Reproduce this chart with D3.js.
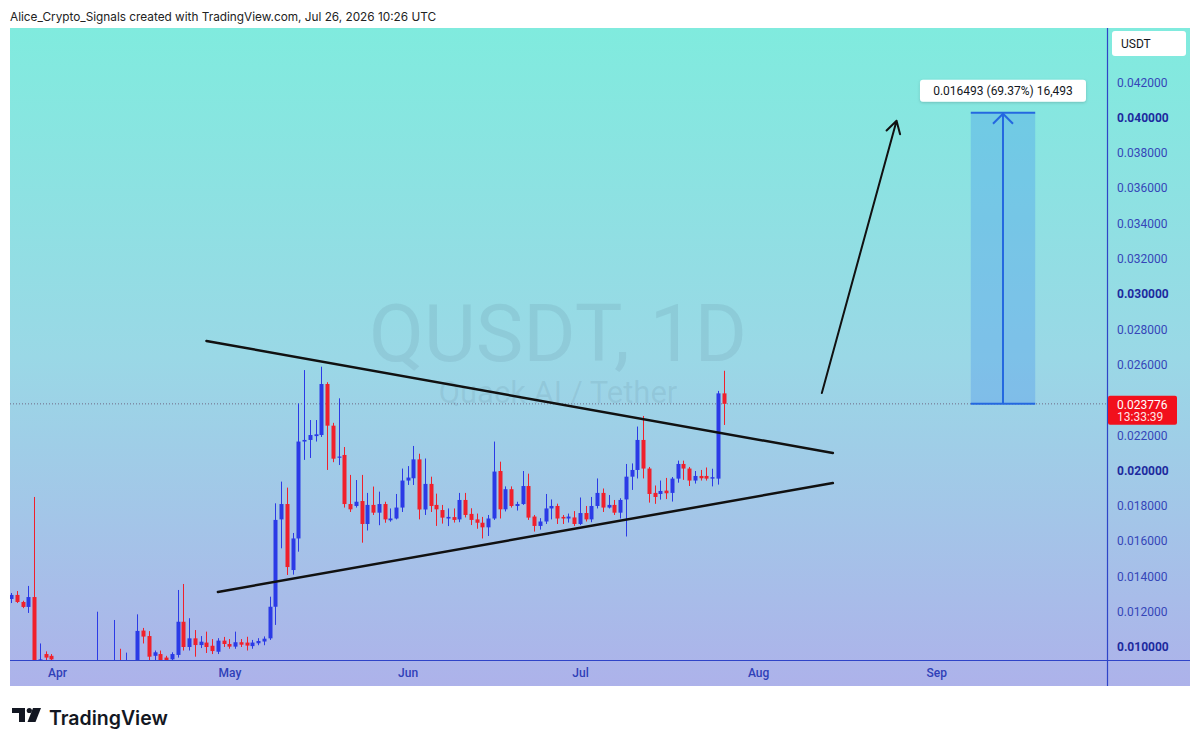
<!DOCTYPE html>
<html>
<head>
<meta charset="utf-8">
<script src="https://cdn.jsdelivr.net/npm/d3@7"></script>
<style>
  body { margin: 0; background: #fff; }
  svg { display: block; font-family: Roboto, "Noto Sans", sans-serif; }
</style>
</head>
<body>
<div id="chart"></div>
<script>
// daily candles starting Mar 24 2026 (one per day)
var firstDay = "2026-03-24";

var opens = [0.01272,0.01295,0.01255,0.01227,0.01283,0.00880,0.00960,0.00950,
  0.00910,0.00880,0.00895,0.00860,0.00870,0.00885,0.00870,0.00860,0.00890,0.00875,
  0.00865,0.00920,0.00880,0.00910,0.00905,0.01093,0.01062,0.00950,0.00960,0.00940,
  0.00930,0.00955,0.01143,0.01000,0.01049,0.01011,0.01025,0.01007,0.00973,0.01036,
  0.01017,0.01002,0.01027,0.01025,0.01005,0.01021,0.01031,0.01049,0.01228,0.01723,
  0.01810,0.01436,0.01615,0.02164,0.02173,0.02195,0.02201,0.02490,0.02254,0.02073,
  0.02088,0.01810,0.01799,0.01827,0.01697,0.01805,0.01761,0.01810,0.01718,0.01728,
  0.01790,0.01943,0.01956,0.02063,0.01779,0.01924,0.01805,0.01776,0.01728,0.01736,
  0.01723,0.01833,0.01754,0.01723,0.01704,0.01678,0.01728,0.01997,0.01780,0.01894,
  0.01799,0.01810,0.01912,0.01739,0.01686,0.01711,0.01785,0.01799,0.01737,0.01728,
  0.01734,0.01697,0.01759,0.01723,0.01799,0.01873,0.01790,0.01805,0.01761,0.01836,
  0.01965,0.02003,0.02173,0.02011,0.01873,0.01867,0.01886,0.01873,0.01954,0.02037,
  0.02011,0.01943,0.01969,0.01969,0.01954,0.01954,0.02437];

var highs = [0.01306,0.01317,0.01262,0.01346,0.01850,0.01020,0.00975,0.00960,
  0.00915,0.00905,0.00910,0.00890,0.00900,0.00910,0.00905,0.01200,0.00915,0.00910,
  0.01153,0.00990,0.00968,0.00920,0.01185,0.01108,0.01090,0.00980,0.00980,0.00950,
  0.00970,0.01323,0.01357,0.01163,0.01096,0.01062,0.01087,0.01045,0.01050,0.01057,
  0.01045,0.01087,0.01045,0.01058,0.01040,0.01050,0.01060,0.01285,0.01814,0.01937,
  0.01903,0.01646,0.02380,0.02569,0.02286,0.02286,0.02588,0.02500,0.02270,0.02409,
  0.02133,0.01975,0.01946,0.01975,0.01873,0.01909,0.01880,0.01823,0.01785,0.01867,
  0.02011,0.02025,0.02139,0.02095,0.02068,0.01965,0.01869,0.01805,0.01785,0.01785,
  0.01873,0.01873,0.01786,0.01756,0.01737,0.01748,0.02164,0.02050,0.01910,0.01910,
  0.01823,0.01997,0.01982,0.01748,0.01730,0.01867,0.01836,0.01812,0.01748,0.01756,
  0.01770,0.01847,0.01799,0.01850,0.01955,0.01898,0.01861,0.01833,0.01843,0.02037,
  0.02040,0.02249,0.02309,0.02020,0.01915,0.01943,0.01958,0.01963,0.02056,0.02056,
  0.02020,0.01997,0.02003,0.02017,0.02010,0.02451,0.02565];

var lows = [0.01249,0.01249,0.01220,0.01193,0.00850,0.00860,0.00900,0.00890,
  0.00870,0.00860,0.00850,0.00840,0.00850,0.00860,0.00850,0.00840,0.00860,0.00850,
  0.00850,0.00870,0.00860,0.00870,0.00890,0.01020,0.00920,0.00920,0.00900,0.00910,
  0.00920,0.00940,0.00980,0.00980,0.00945,0.00994,0.00966,0.00960,0.00960,0.01000,
  0.00990,0.00990,0.01000,0.00980,0.00990,0.01010,0.01010,0.01040,0.01125,0.01559,
  0.01408,0.01410,0.01540,0.02060,0.02071,0.02164,0.02190,0.02003,0.02047,0.02031,
  0.01790,0.01765,0.01790,0.01591,0.01660,0.01748,0.01690,0.01704,0.01710,0.01723,
  0.01765,0.01918,0.01918,0.01723,0.01748,0.01765,0.01686,0.01699,0.01685,0.01705,
  0.01707,0.01734,0.01691,0.01670,0.01615,0.01629,0.01720,0.01728,0.01768,0.01790,
  0.01773,0.01805,0.01720,0.01654,0.01665,0.01697,0.01723,0.01697,0.01697,0.01705,
  0.01686,0.01691,0.01711,0.01707,0.01785,0.01765,0.01785,0.01748,0.01728,0.01626,
  0.01890,0.01955,0.01955,0.01818,0.01811,0.01835,0.01838,0.01824,0.01931,0.01947,
  0.01912,0.01926,0.01943,0.01943,0.01910,0.01920,0.02258];

var closes = [0.01295,0.01255,0.01227,0.01283,0.00880,0.00930,0.00940,0.00930,
  0.00880,0.00895,0.00860,0.00870,0.00885,0.00870,0.00880,0.00890,0.00875,0.00865,
  0.00900,0.00880,0.00910,0.00905,0.01091,0.01059,0.00945,0.00970,0.00920,0.00920,
  0.00960,0.01143,0.01000,0.01049,0.01011,0.01030,0.01000,0.00977,0.01036,0.01017,
  0.01002,0.01027,0.01013,0.01008,0.01025,0.01034,0.01047,0.01228,0.01720,0.01810,
  0.01453,0.01615,0.02164,0.02173,0.02201,0.02205,0.02490,0.02254,0.02067,0.02079,
  0.01810,0.01780,0.01823,0.01697,0.01805,0.01761,0.01810,0.01723,0.01728,0.01790,
  0.01943,0.01960,0.02063,0.01779,0.01924,0.01799,0.01780,0.01733,0.01737,0.01720,
  0.01833,0.01748,0.01720,0.01704,0.01678,0.01728,0.01994,0.01780,0.01894,0.01799,
  0.01810,0.01912,0.01733,0.01686,0.01711,0.01785,0.01799,0.01728,0.01728,0.01739,
  0.01697,0.01759,0.01723,0.01799,0.01873,0.01790,0.01805,0.01761,0.01833,0.01965,
  0.02003,0.02173,0.02011,0.01867,0.01850,0.01884,0.01871,0.01954,0.02037,0.02011,
  0.01943,0.01969,0.01956,0.01954,0.01962,0.02437,0.023776];

// 0.024 sits under the last-price label, so it is not listed
var priceTicks = [0.010,0.012,0.014,0.016,0.018,0.020,0.022,0.026,0.028,
  0.030,0.032,0.034,0.036,0.038,0.040,0.042];
var boldTicks = [0.010,0.020,0.030,0.040];
var monthTicks = ["2026-04-01","2026-05-01","2026-06-01","2026-07-01","2026-08-01","2026-09-01"];

var lastPrice = 0.023776;
var countdown = "13:33:39";

// drawings (time, price)
var upperTrend = [["2026-04-27T00:00Z",0.02734],["2026-08-14T00:00Z",0.02099]];
var lowerTrend = [["2026-04-29T00:00Z",0.01312],["2026-08-14T00:00Z",0.01929]];
var bigArrow = [["2026-08-12T02:00Z",0.02439],["2026-08-25T02:00Z",0.03982]];
var measure = {from: "2026-09-07T00:00Z", to: "2026-09-18T05:00Z", p0: 0.023776, p1: 0.040269};
var measureLabel = "0.016493 (69.37%) 16,493";

var headerText = "Alice_Crypto_Signals created with TradingView.com, Jul 26, 2026 10:26 UTC";

var W = 1200, H = 747;
var plotL = 10, plotR = 1107, plotT = 28, plotB = 660, axisR = 1190, axisB = 686;

var parseDay = d3.utcParse("%Y-%m-%d");
var dates = opens.map(function(d, i) { return d3.utcDay.offset(parseDay(firstDay), i); });
var candles = dates.map(function(d, i) {
  return { date: d, o: opens[i], h: highs[i], l: lows[i], c: closes[i] };
});

var x = d3.scaleUtc()
  .domain([new Date("2026-03-23T19:40Z"), new Date("2026-09-30T16:50Z")])
  .range([plotL, plotR]);
var y = d3.scaleLinear()
  .domain([0.009263, 0.045071])
  .range([plotB, plotT]);

var svg = d3.select("#chart").append("svg")
  .attr("width", W).attr("height", H);

var defs = svg.append("defs");
var grad = defs.append("linearGradient")
  .attr("id", "bg").attr("gradientUnits", "userSpaceOnUse")
  .attr("x1", 0).attr("y1", plotT).attr("x2", 0).attr("y2", axisB);
grad.append("stop").attr("offset", 0).attr("stop-color", "#80ebde");
grad.append("stop").attr("offset", 0.5).attr("stop-color", "#9ad8e6");
grad.append("stop").attr("offset", 1).attr("stop-color", "#adb2ea");

defs.append("clipPath").attr("id", "plotClip")
  .append("rect").attr("x", plotL).attr("y", plotT)
  .attr("width", plotR - plotL).attr("height", plotB - plotT);

var shadow = defs.append("filter").attr("id", "shadow")
  .attr("x", -0.1).attr("y", -0.3).attr("width", 1.2).attr("height", 1.8);
shadow.append("feDropShadow").attr("dx", 0).attr("dy", 1)
  .attr("stdDeviation", 1.5).attr("flood-color", "#000").attr("flood-opacity", 0.18);

// header
svg.append("text")
  .attr("x", 10).attr("y", 21)
  .style("font-family", "Inter, Roboto, sans-serif")
  .style("font-size", "11.8px").style("fill", "#222")
  .text(headerText);

// panel background
svg.append("rect")
  .attr("x", plotL).attr("y", plotT)
  .attr("width", axisR - plotL).attr("height", axisB - plotT)
  .style("fill", "url(#bg)");

// watermark
svg.append("text")
  .attr("x", 558).attr("y", 361)
  .attr("text-anchor", "middle")
  .style("font-size", "80px")
  .style("fill", "#4d6f80").style("fill-opacity", 0.13)
  .text("QUSDT, 1D");
svg.append("text")
  .attr("x", 558).attr("y", 403)
  .attr("text-anchor", "middle")
  .style("font-size", "31px")
  .style("fill", "#4d6f80").style("fill-opacity", 0.13)
  .text("Quack AI / Tether");

var plot = svg.append("g").attr("clip-path", "url(#plotClip)");

// last price dotted line
plot.append("line")
  .attr("x1", plotL).attr("x2", plotR)
  .attr("y1", y(lastPrice)).attr("y2", y(lastPrice))
  .style("stroke", "#6f6a86").style("stroke-width", 1)
  .style("stroke-dasharray", "1,2");

// candles
var up = "#2b3ae6", down = "#f0202b";
var bodyW = 4;
var cg = plot.append("g");
cg.selectAll("line.wick")
  .data(candles).enter()
  .append("line")
  .attr("class", "wick")
  .attr("x1", function(d) { return Math.round(x(d.date)) + 0.5; })
  .attr("x2", function(d) { return Math.round(x(d.date)) + 0.5; })
  .attr("y1", function(d) { return y(d.h); })
  .attr("y2", function(d) { return y(d.l); })
  .style("stroke", function(d) { return d.c >= d.o ? up : down; })
  .style("stroke-width", 1);
cg.selectAll("rect.body")
  .data(candles).enter()
  .append("rect")
  .attr("class", "body")
  .attr("x", function(d) { return Math.round(x(d.date)) + 0.5 - bodyW / 2; })
  .attr("width", bodyW)
  .attr("y", function(d) { return y(Math.max(d.o, d.c)); })
  .attr("height", function(d) { return Math.max(1.2, Math.abs(y(d.o) - y(d.c))); })
  .style("fill", function(d) { return d.c >= d.o ? up : down; });

// trend lines
var lineGen = d3.line()
  .x(function(d) { return x(new Date(d[0])); })
  .y(function(d) { return y(d[1]); });
[upperTrend, lowerTrend].forEach(function(t) {
  svg.append("path")
    .attr("d", lineGen(t))
    .style("fill", "none").style("stroke", "#111")
    .style("stroke-width", 2.5).style("stroke-linecap", "round");
});

// projection arrow
var ax0 = x(new Date(bigArrow[0][0])), ay0 = y(bigArrow[0][1]);
var ax1 = x(new Date(bigArrow[1][0])), ay1 = y(bigArrow[1][1]);
var ang = Math.atan2(ay1 - ay0, ax1 - ax0);
var armLen = 14, armAng = Math.PI / 6;
svg.append("path")
  .attr("d", "M" + ax0 + "," + ay0 + "L" + ax1 + "," + ay1 +
    "M" + (ax1 - armLen * Math.cos(ang - armAng)) + "," + (ay1 - armLen * Math.sin(ang - armAng)) +
    "L" + ax1 + "," + ay1 +
    "L" + (ax1 - armLen * Math.cos(ang + armAng)) + "," + (ay1 - armLen * Math.sin(ang + armAng)))
  .style("fill", "none").style("stroke", "#111")
  .style("stroke-width", 2).style("stroke-linecap", "round").style("stroke-linejoin", "round");

// measure tool
var mx0 = x(new Date(measure.from)), mx1 = x(new Date(measure.to));
var my0 = y(measure.p0), my1 = y(measure.p1);
var mcx = (mx0 + mx1) / 2;
var mg = svg.append("g");
mg.append("rect")
  .attr("x", mx0).attr("y", my1)
  .attr("width", mx1 - mx0).attr("height", my0 - my1)
  .style("fill", "#3c8cf0").style("fill-opacity", 0.3);
mg.append("line").attr("x1", mx0).attr("x2", mx1).attr("y1", my1).attr("y2", my1)
  .style("stroke", "#2468e0").style("stroke-width", 2);
mg.append("line").attr("x1", mx0).attr("x2", mx1).attr("y1", my0).attr("y2", my0)
  .style("stroke", "#2468e0").style("stroke-width", 2);
mg.append("line").attr("x1", mcx).attr("x2", mcx).attr("y1", my0).attr("y2", my1 + 1)
  .style("stroke", "#2468e0").style("stroke-width", 2);
mg.append("path")
  .attr("d", "M" + (mcx - 10) + "," + (my1 + 11) + "L" + mcx + "," + (my1 + 1) + "L" + (mcx + 10) + "," + (my1 + 11))
  .style("fill", "none").style("stroke", "#2468e0").style("stroke-width", 2);

var lbl = mg.append("g");
lbl.append("rect")
  .attr("x", mcx - 83).attr("y", my1 - 33)
  .attr("width", 166).attr("height", 22).attr("rx", 3)
  .style("fill", "#fff").attr("filter", "url(#shadow)");
lbl.append("text")
  .attr("x", mcx).attr("y", my1 - 17.5)
  .attr("text-anchor", "middle")
  .style("font-size", "12px").style("fill", "#131722")
  .text(measureLabel);

// axis border lines
svg.append("line")
  .attr("x1", plotL).attr("x2", axisR).attr("y1", plotB + 0.5).attr("y2", plotB + 0.5)
  .style("stroke", "#2f44c8").style("stroke-width", 1.2);
svg.append("line")
  .attr("x1", plotR + 0.5).attr("x2", plotR + 0.5).attr("y1", plotT).attr("y2", axisB)
  .style("stroke", "#2f44c8").style("stroke-width", 1.2);

// price axis
var yAxis = d3.axisRight(y)
  .tickValues(priceTicks)
  .tickSize(0).tickPadding(10)
  .tickFormat(d3.format(".6f"));
var yg = svg.append("g")
  .attr("transform", "translate(" + plotR + ",0)")
  .call(yAxis);
yg.select(".domain").remove();
yg.selectAll("text")
  .style("font-family", "Roboto, sans-serif")
  .style("font-size", "12px")
  .style("fill", function(d) { return boldTicks.indexOf(d) >= 0 ? "#1d2a9e" : "#3546b8"; })
  .style("font-weight", function(d) { return boldTicks.indexOf(d) >= 0 ? 700 : 400; });

// time axis
var xAxis = d3.axisBottom(x)
  .tickValues(monthTicks.map(function(d) { return parseDay(d); }))
  .tickSize(0).tickPadding(8)
  .tickFormat(d3.utcFormat("%b"));
var xg = svg.append("g")
  .attr("transform", "translate(0," + plotB + ")")
  .call(xAxis);
xg.select(".domain").remove();
xg.selectAll("text")
  .style("font-family", "Roboto, sans-serif")
  .style("font-size", "12px").style("font-weight", 500)
  .style("fill", "#2f40b8");

// USDT box
svg.append("rect")
  .attr("x", 1112).attr("y", 31).attr("width", 74).attr("height", 25).attr("rx", 3)
  .style("fill", "#fff");
svg.append("text")
  .attr("x", 1121).attr("y", 48)
  .style("font-size", "12px").style("fill", "#131722")
  .text("USDT");

// last price label
var ly = y(lastPrice);
svg.append("rect")
  .attr("x", plotR + 1).attr("y", ly - 8).attr("width", 69).attr("height", 29).attr("rx", 2)
  .style("fill", "#f2101c");
svg.append("text")
  .attr("x", 1117).attr("y", ly + 5)
  .style("font-size", "12px").style("fill", "#fff")
  .text(d3.format(".6f")(lastPrice));
svg.append("text")
  .attr("x", 1117).attr("y", ly + 17)
  .style("font-size", "12px").style("fill", "#fff").style("fill-opacity", 0.9)
  .text(countdown);

// TradingView logo
var logo = svg.append("g").attr("transform", "translate(12,708)");
logo.append("path")
  .attr("d", "M0,0 H13 V14 H7 V5 H0 Z")
  .style("fill", "#131722");
logo.append("circle").attr("cx", 17.3).attr("cy", 2.5).attr("r", 2.6)
  .style("fill", "#131722");
logo.append("path")
  .attr("d", "M21,0 H29 L23.5,14 H15.5 Z")
  .style("fill", "#131722");
svg.append("text")
  .attr("x", 49).attr("y", 725)
  .style("font-family", "Inter, Roboto, sans-serif")
  .style("font-size", "19.5px").style("font-weight", 600)
  .style("fill", "#131722")
  .text("TradingView");
</script>
</body>
</html>
